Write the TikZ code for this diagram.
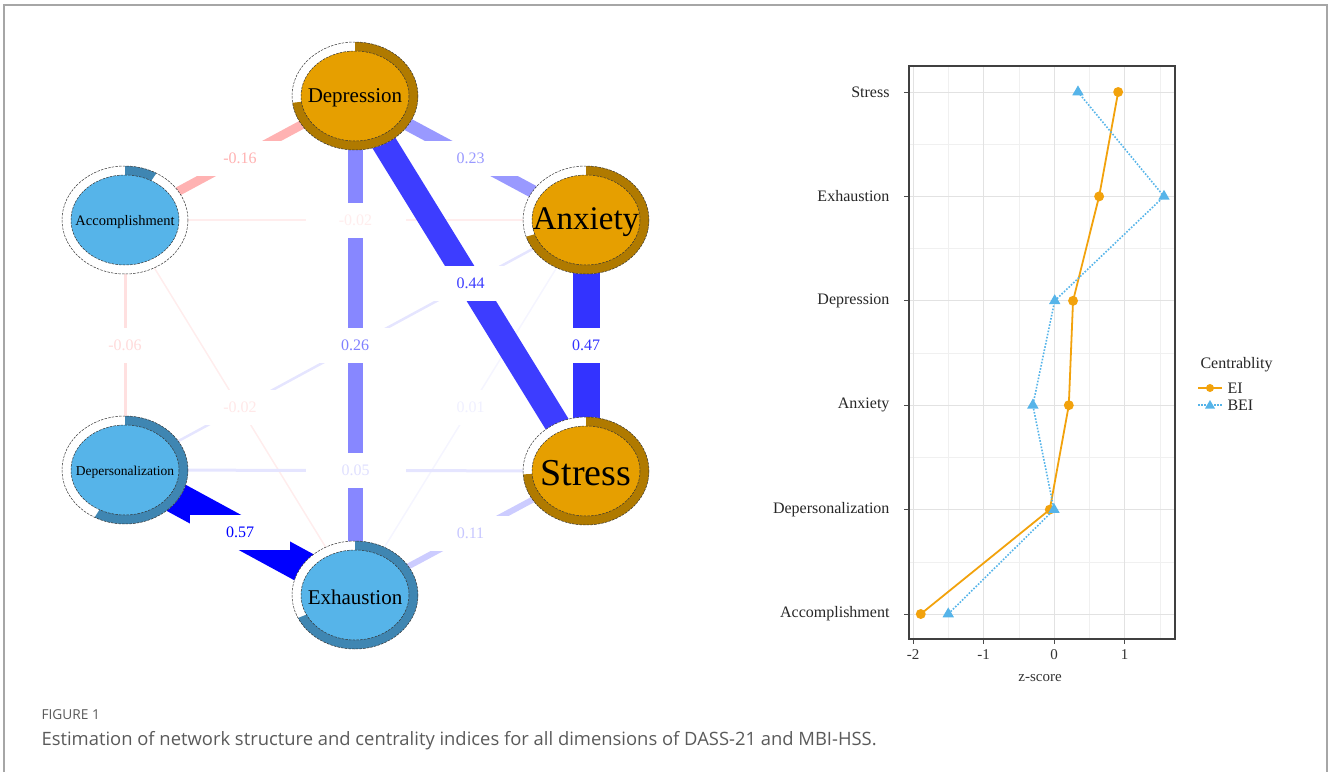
\documentclass[tikz,border=0pt]{standalone}
\usepackage{fontspec}
\setmainfont{Liberation Serif}
\newfontfamily\capfont{Open Sans}
\usetikzlibrary{shapes.geometric,backgrounds,plotmarks}

\definecolor{dassfill}{HTML}{E69F00}
\definecolor{dassring}{HTML}{B07A00}
\definecolor{mbifill}{HTML}{56B4E9}
\definecolor{mbiring}{HTML}{3F86B2}
\definecolor{eicol}{HTML}{F2A20C}
\definecolor{beicol}{HTML}{56B4E9}
\definecolor{gridmaj}{HTML}{E2E2E2}
\definecolor{gridmin}{HTML}{F0F0F0}
\definecolor{capgray}{HTML}{5A5A5A}

\tikzset{
  outerring/.style={ellipse, minimum width=126, minimum height=108, inner sep=0, outer sep=0, fill=white},
  ringline/.style={draw=black!80, line width=0.5, dash pattern=on 2.5pt off 1.2pt},
  lbl/.style={fill=white, minimum width=100, minimum height=35, inner sep=0, font=\fontsize{16}{16}\selectfont},
  ticklbl/.style={font=\fontsize{15}{15}\selectfont, text=black!80},
  catlbl/.style={anchor=east, font=\fontsize{16}{16}\selectfont, text=black!85},
}

% name, position, fraction, fill, ring, font size, text
\newcommand{\pienode}[7]{%
  \node[outerring] (#1) at (#2) {};
  \fill[#5] (#1.center) -- (#1.north) arc[start angle=-90, end angle={-90+360*#3}, x radius=63, y radius=54] -- cycle;
  \draw[ringline] (#1.center) ellipse [x radius=63, y radius=54];
  \filldraw[fill=#4, ringline] (#1.center) ellipse [x radius=54, y radius=45];
  \node[inner sep=0, font=\fontsize{#6}{#6}\selectfont] (#1txt) at ([yshift=-2]#1.center) {#7};
}

\begin{document}
\begin{tikzpicture}[x=1pt, y=-1pt]
  \useasboundingbox (0,0) rectangle (1328,772);
  \draw[black!35, line width=1.5] (4,772) -- (4,5) -- (1327,5) -- (1327,772);

  % network
  \pienode{dep}{355,96}{0.73}{dassfill}{dassring}{21}{Depression}
  \pienode{anx}{586,220}{0.70}{dassfill}{dassring}{33}{Anxiety}
  \pienode{str}{586,471}{0.74}{dassfill}{dassring}{38}{Stress}
  \pienode{exh}{355,595}{0.68}{mbifill}{mbiring}{21}{Exhaustion}
  \pienode{acc}{125,220}{0.083}{mbifill}{mbiring}{14.5}{Accomplishment}
  \pienode{dpz}{125,470}{0.58}{mbifill}{mbiring}{13.5}{Depersonalization}

  \begin{scope}[on background layer]
    \begin{scope}[every edge/.style={draw, line cap=butt}]
      \path (acc.center) edge[line width=1.5, red!7]  (anx.center);
      \path (acc.center) edge[line width=1.5, red!7]  (exh.center);
      \path (anx.center) edge[line width=1.5, blue!4] (exh.center);
      \path (dpz.center) edge[line width=2.5, blue!10] (anx.center);
      \path (acc.center) edge[line width=3, red!12]   (dpz.center);
      \path (dpz.center) edge[line width=3, blue!10]  (str.center);
      \path (exh.center) edge[line width=6, blue!20]  (str.center);
      \path (dep.center) edge[line width=9, red!30]   (acc.center);
      \path (dep.center) edge[line width=13, blue!40] (anx.center);
      \path (dep.center) edge[line width=15, blue!47] (exh.center);
      \path (dep.center) edge[line width=25, blue!76] (str.center);
      \path (anx.center) edge[line width=27, blue!80] (str.center);
      \path (dpz.center) edge[line width=32, blue]    (exh.center);
    \end{scope}

    \begin{scope}[every node/.style={lbl}]
      \path (acc.center) -- node[text=red!7]   {-0.02} (anx.center);
      \path (acc.center) -- node[text=red!9]   {-0.02} (exh.center);
      \path (anx.center) -- node[text=blue!6]  {0.01}  (exh.center);
      \path (acc.center) -- node[text=red!14]  {-0.06} (dpz.center);
      \path (dpz.center) -- node[text=blue!12] {0.05}  (str.center);
      \path (exh.center) -- node[text=blue!22] {0.11}  (str.center);
      \path (dep.center) -- node[text=red!30]  {-0.16} (acc.center);
      \path (dep.center) -- node[text=blue!40] {0.23}  (anx.center);
      \path (dep.center) -- node[text=blue!50] {0.26}  (exh.center);
      \path (dep.center) -- node[text=blue!76] {0.44}  (str.center);
      \path (anx.center) -- node[text=blue!80] {0.47}  (str.center);
      \path (dpz.center) -- node[text=blue]    {0.57}  (exh.center);
    \end{scope}
  \end{scope}

  % centrality plot
  \foreach \gx in {948,1019,1089,1160}
    \draw[gridmin, line width=0.6] (\gx,66) -- (\gx,639);
  \foreach \gy in {144.2,248.6,353,457.4,561.8}
    \draw[gridmin, line width=0.6] (909,\gy) -- (1175,\gy);
  \foreach \gx/\tl [count=\i] in {913/-2, 983.5/-1, 1054/0, 1124.5/1} {
    \draw[gridmaj, line width=0.9] (\gx,66) -- (\gx,639);
    \draw[black!70, line width=0.9] (\gx,639) -- (\gx,644);
    \node[ticklbl, anchor=north] (xtick\i) at (\gx,646) {\tl};
  }
  \foreach \yy/\cat [count=\i] in {92/Stress, 196.4/Exhaustion, 300.8/Depression,
      405.2/Anxiety, 509.6/Depersonalization, 614/Accomplishment} {
    \draw[gridmaj, line width=0.9] (909,\yy) -- (1175,\yy);
    \draw[black!70, line width=0.9] (904,\yy) -- (909,\yy);
    \node[catlbl] (ycat\i) at (893,\yy) {\cat};
  }
  \draw[black!75, line width=1.2] (909,66) rectangle (1175,639);
  \node[ticklbl] (xtitle) at (1040,678) {z-score};

  \begin{scope}[shift={(1054,0)}, x=70.5pt]
    \draw[eicol, line width=1.8] plot[mark=*, mark size=4]
      coordinates {(0.91,92) (0.64,196.4) (0.27,300.8) (0.21,405.2) (-0.06,509.6) (-1.89,614)};
    \draw[beicol, line width=1.6, dash pattern=on 1.6pt off 1.6pt] plot[mark=triangle*, mark size=5, mark options={solid}]
      coordinates {(0.34,92) (1.56,196.4) (0.01,300.8) (-0.30,405.2) (0.0,509.6) (-1.50,614)};
  \end{scope}

  % legend
  \node[anchor=west, font=\fontsize{16}{16}\selectfont, text=black!85] (legtitle) at (1197,365) {Centrablity};
  \draw[eicol, line width=1.8] (1198,388) -- (1222,388);
  \fill[eicol] (1210,388) circle (4);
  \node[anchor=west, font=\fontsize{16}{16}\selectfont, text=black!85] (legei) at (1224,388) {EI};
  \draw[beicol, line width=1.6, dash pattern=on 1.6pt off 1.6pt] (1198,405) -- (1222,405);
  \fill[beicol] (1210,400) -- (1215,408.5) -- (1205,408.5) -- cycle;
  \node[anchor=west, font=\fontsize{16}{16}\selectfont, text=black!85] (legbei) at (1224,405) {BEI};

  % caption
  \node[anchor=west, font=\capfont\fontsize{13.7}{13.7}\selectfont, text=capgray] (figno) at (38,715) {FIGURE 1};
  \node[anchor=west, font=\capfont\fontsize{18.4}{18.4}\selectfont, text=capgray] (caption) at (38,741)
    {Estimation of network structure and centrality indices for all dimensions of DASS-21 and MBI-HSS.};
\end{tikzpicture}
\end{document}
